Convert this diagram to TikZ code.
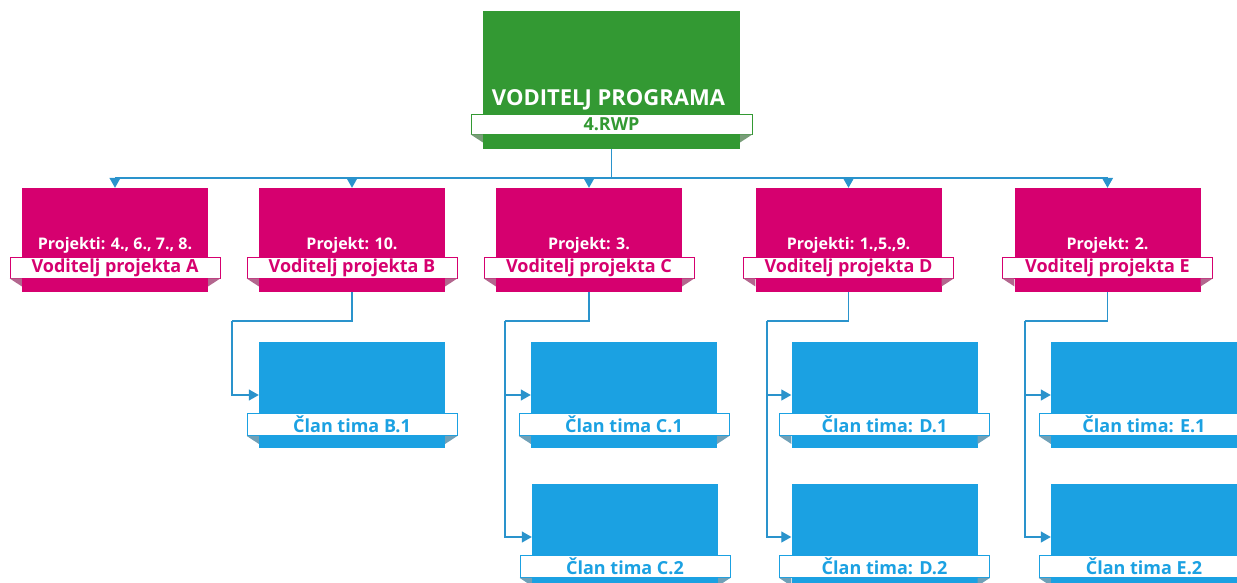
\documentclass[tikz,border=0pt]{standalone}
\usepackage{fontspec}
\setmainfont{Open Sans}
\usetikzlibrary{arrows.meta}
\definecolor{cgreen}{HTML}{339933}
\definecolor{cmag}{HTML}{D6006F}
\definecolor{cblue}{HTML}{1BA1E2}
\definecolor{cline}{HTML}{2A93CC}
\tikzset{
  box/.style={draw=none, fill=#1, minimum width=186pt, minimum height=106pt, inner sep=0pt},
  ribbon/.style={draw=#1, line width=0.8pt, fill=white, minimum width=210pt, minimum height=21pt, inner sep=0pt, text=#1, font=\bfseries\fontsize{18}{20}\selectfont},
  fold/.style={fill=#1!60!black!60},
  conn/.style={draw=cline, line width=1.3pt},
  arr/.style={conn, -{Triangle[length=10pt,width=11pt]}},
}
\newcommand\foldsrib[3]{% ribbon name, box name, colour
  \fill[fold=#3] (#1.south west) -- (#2.west |- #1.south) -- ([yshift=-8pt]#2.west |- #1.south) -- cycle;
  \fill[fold=#3] (#1.south east) -- (#2.east |- #1.south) -- ([yshift=-8pt]#2.east |- #1.south) -- cycle;
}
\begin{document}
\begin{tikzpicture}[x=1pt,y=-1pt]
\useasboundingbox (0,0) rectangle (1237,583);
% program lead
\node[box=cgreen, minimum width=257pt, minimum height=138pt] (G) at (611.5,80) {};
\node[ribbon=cgreen, minimum width=281pt, minimum height=20pt] (Gr) at (611.5,124) {4.RWP};
\foldsrib{Gr}{G}{cgreen}
\node[text=white, font=\bfseries\fontsize{22}{24}\selectfont] (Gt) at (608.5,100) {VODITELJ PROGRAMA};
% project leads
\foreach \n/\x/\p/\l in {A/115/{Projekti: 4., 6., 7., 8.}/A, B/352/{Projekt: 10.}/B, C/589/{Projekt: 3.}/C, D/848.5/{Projekti: 1.,5.,9.}/D, E/1107.5/{Projekt: 2.}/E}{
  \node[box=cmag, minimum height=104pt] (\n) at (\x,240) {};
  \node[ribbon=cmag] (\n r) at (\x,267.5) {Voditelj projekta \l};
  \foldsrib{\n r}{\n}{cmag}
  \node[text=white, font=\bfseries\fontsize{16}{18}\selectfont] (\n t) at (\x,245) {\p};
}
% team members
\foreach \n/\x/\y/\l in {B1/352/395/{Član tima B.1}, C1/624/395/{Član tima C.1}, C2/625/537/{Član tima C.2}, D1/884.5/395/{Član tima: D.1}, D2/884.5/537/{Član tima: D.2}, E1/1144/395/{Član tima: E.1}, E2/1144/537/{Član tima E.2}}{
  \node[box=cblue] (\n) at (\x,\y) {};
  \node[ribbon=cblue, minimum height=22pt] (\n r) at (\x,\y+29.5) {\l};
  \foldsrib{\n r}{\n}{cblue}
}
% top connectors
\coordinate (bus) at (611.5,178);
\draw[conn] (G.south) -- (bus);
\draw[conn] (A.north |- bus) -- (E.north |- bus);
\foreach \n in {A,B,C,D,E}{
  \draw[arr] (\n.north |- bus) -- (\n.north);
}
% member connectors
\foreach \p/\xs/\kids in {B/232/{B1}, C/505/{C1,C2}, D/767/{D1,D2}, E/1025/{E1,E2}}{
  \coordinate (\p k) at (\xs,321);
  \draw[conn] (\p.south) |- (\p k);
  \foreach \k in \kids {
    \draw[arr] (\p k) |- (\k.west);
  }
}
\end{tikzpicture}
\end{document}
